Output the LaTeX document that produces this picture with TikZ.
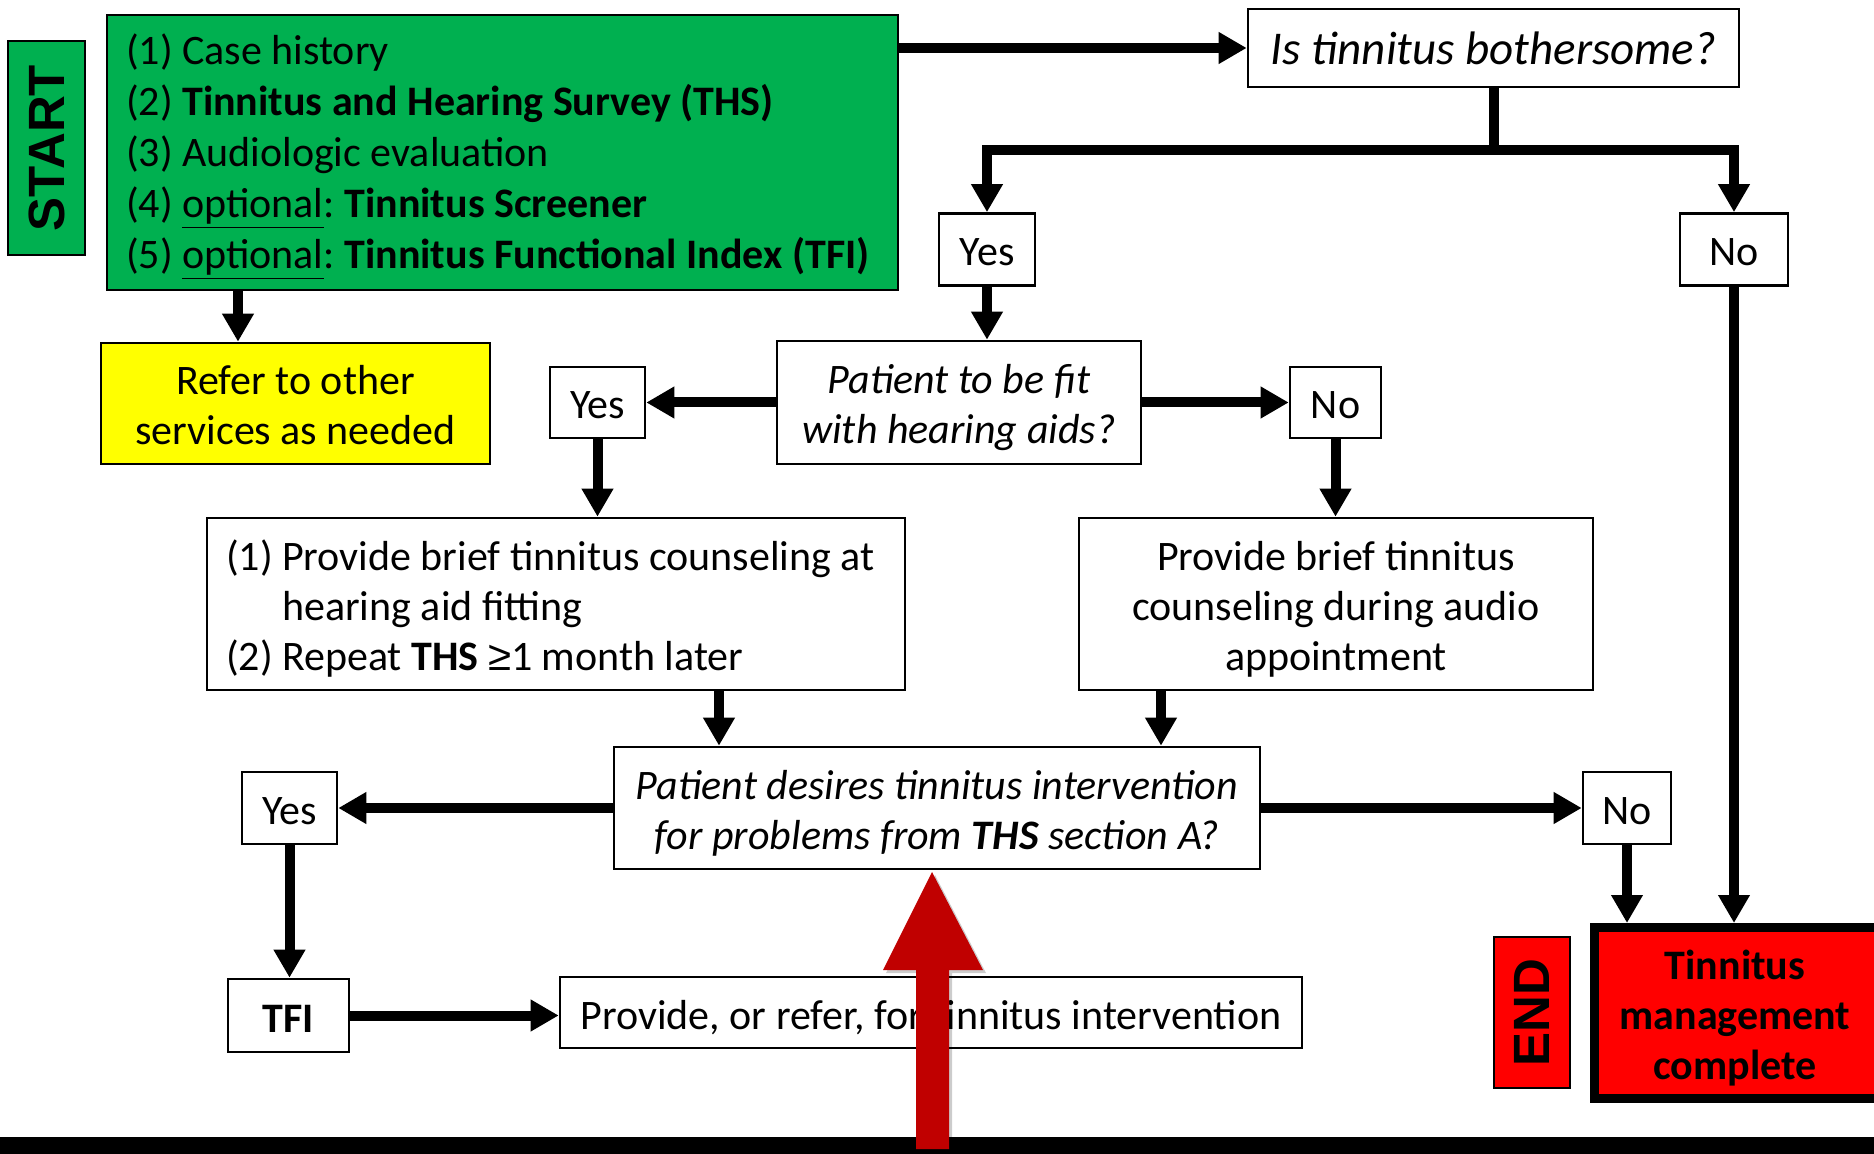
\documentclass[tikz,border=0pt]{standalone}
\usepackage{fontspec}
\setmainfont{Carlito}
\newfontfamily\labelfont{Liberation Sans}
\newfontfamily\symfont{Liberation Sans}
\usetikzlibrary{arrows.meta}
\frenchspacing

\definecolor{startgreen}{HTML}{00B050}
\definecolor{noteyellow}{HTML}{FFFF00}
\definecolor{endred}{HTML}{FF0000}
\definecolor{pointerred}{HTML}{C00000}

% fixed line boxes so every text sits the same way in its frame
\newcommand\linestrut{\rule[-3pt]{0pt}{22.5pt}}
\newcommand\liststrut{\rule[-4.5pt]{0pt}{21.5pt}}

\begin{document}
\begin{tikzpicture}[x=0.5pt,y=-0.5pt,
  txt/.style={font=\fontsize{21pt}{25pt}\selectfont},
  itxt/.style={font=\fontsize{21pt}{25pt}\selectfont\itshape},
  box/.style={draw=black, line width=1.3pt, fill=white, inner sep=0pt, align=center, txt,
    execute at begin node=\linestrut, execute at end node=\linestrut},
  leftbox/.style={box, align=left,
    execute at begin node={\spaceskip=0pt\xspaceskip=0pt#1}, execute at end node=#1},
  mbox/.style={box, align=flush center, inner xsep=1pt,
    execute at begin node={\spaceskip=0pt\xspaceskip=0pt\linestrut}, execute at end node=\linestrut},
  tag/.style={box, minimum height=36pt},
  sidelabel/.style={draw=black, line width=1.3pt, inner sep=0pt},
  link/.style={line width=5pt},
  arr/.style={line width=5pt, -{Triangle[width=15pt,length=14pt]}},
]
\useasboundingbox (0,0) rectangle (1874,1154);

% ---------- entry ----------
\node[sidelabel, fill=startgreen, minimum width=38.5pt, minimum height=107pt] (start) at (46.5,148)
  {\rotatebox{90}{\labelfont\bfseries\fontsize{25.5pt}{25pt}\selectfont START}};
\node[leftbox=\liststrut, fill=startgreen, minimum height=137.5pt, inner xsep=9.5pt, text width=376.5pt,
      font=\fontsize{21pt}{25.5pt}\selectfont] (intake) at (502.5,152.5)
  {(1) Case history\\
   (2) \textbf{Tinnitus and Hearing Survey (THS)}\\
   (3) Audiologic evaluation\\
   (4) \underline{optional}: \textbf{Tinnitus Screener}\\
   (5) \underline{optional}: \textbf{Tinnitus Functional Index (TFI)}};
\node[mbox, fill=noteyellow, text width=192.5pt, minimum height=60.5pt] (refer) at (295.5,403.5)
  {Refer to other\\services as needed};

% ---------- first question ----------
\node[box, minimum width=245.5pt, minimum height=39pt, font=\fontsize{23.5pt}{25pt}\selectfont\itshape] (bother) at (1493.5,48)
  {Is tinnitus bothersome?};
\node[tag, minimum width=48pt] (yes1) at (987,249.5) {Yes};
\node[tag, minimum width=54pt] (no1) at (1734,249.5) {No};

% ---------- hearing aids ----------
\node[mbox, itxt, text width=180pt, minimum height=61.5pt] (fit) at (959,402.5)
  {Patient to be fit\\with hearing aids?};
\node[tag, minimum width=47.5pt, minimum height=35.5pt] (yes2) at (597.5,402.5) {Yes};
\node[tag, minimum width=45.5pt, minimum height=35.5pt] (no2) at (1335.5,402.5) {No};

\node[leftbox=\linestrut, inner xsep=9.5pt, text width=330pt, minimum height=86pt] (hacounsel) at (556,604)
  {(1) Provide brief tinnitus counseling at\\
   \phantom{(1) }hearing aid fitting\\
   (2) Repeat \textbf{THS} {\symfont ≥}1 month later};
\node[mbox, text width=255pt, minimum height=86pt] (audcounsel) at (1336,604)
  {Provide brief tinnitus\\counseling during audio\\appointment};

% ---------- intervention ----------
\node[mbox, itxt, text width=321pt, minimum height=61pt] (desire) at (937,808)
  {Patient desires tinnitus intervention\\for problems from \textbf{THS} section A?};
\node[tag, minimum width=47.5pt] (yes3) at (289.5,808) {Yes};
\node[tag, minimum width=44pt] (no3) at (1627,808) {No};
\node[box, minimum width=60.5pt, minimum height=36.5pt] (tfi) at (288.5,1015.5) {\textbf{TFI}};
\node[box, minimum width=371pt, minimum height=35.5pt] (provide) at (931,1012.5)
  {Provide, or refer, for tinnitus intervention};

% ---------- end ----------
\node[sidelabel, fill=endred, minimum width=38pt, minimum height=75.5pt] (endtag) at (1532,1012.5)
  {\rotatebox{90}{\labelfont\bfseries\fontsize{25.5pt}{25pt}\selectfont END}};
\node[draw=black, line width=4.5pt, fill=endred, inner sep=0pt, minimum width=152.75pt, minimum height=85.5pt] (done) at (1747.25,1013) {};
\node[txt, align=center, inner sep=0pt, execute at begin node=\linestrut, execute at end node=\linestrut] (donetext) at (1735,1018)
  {\textbf{Tinnitus}\\\textbf{management}\\\textbf{complete}};

% ---------- connectors ----------
\coordinate (split) at (1493.5,150);
\coordinate (referdrop) at (238,290);
\coordinate (leftdrop) at ([xshift=81.5pt]hacounsel.south);
\coordinate (rightdrop) at ([xshift=-87.5pt]audcounsel.south);

\draw[arr] (intake.east |- bother.west) -- (bother.west);
\draw[arr] (referdrop |- intake.south) -- (referdrop |- refer.north);
\draw[link] (bother.south) -- (split);
\draw[arr] (split) -| (yes1.north);
\draw[arr] (split) -| (no1.north);
\draw[arr] (yes1.south) -- (yes1.south |- fit.north);
\draw[arr] (no1.south) -- (no1.south |- done.north);
\draw[arr] (fit.west) -- (yes2.east);
\draw[arr] (fit.east) -- (no2.west);
\draw[arr] (yes2.south) -- (yes2.south |- hacounsel.north);
\draw[arr] (no2.south) -- (no2.south |- audcounsel.north);
\draw[arr] (leftdrop) -- (leftdrop |- desire.north);
\draw[arr] (rightdrop) -- (rightdrop |- desire.north);
\draw[arr] (desire.west) -- (yes3.east);
\draw[arr] (desire.east) -- (no3.west);
\draw[arr] (yes3.south) -- (yes3.south |- tfi.north);
\draw[arr] (no3.south) -- (no3.south |- done.north);
\draw[arr] (tfi.east) -- (tfi.east -| provide.west);

% ---------- bottom bar and pointer ----------
\fill[black] (0,1137) rectangle (1874,1154);
\fill[black, opacity=0.2] (919,1149) -- (919,973) -- (886,973) -- (935,875) -- (986,973) -- (952,973) -- (952,1149) -- cycle;
\fill[pointerred] (916,1149) -- (916,970) -- (883,970) -- (932,872) -- (983,970) -- (949,970) -- (949,1149) -- cycle;
\end{tikzpicture}
\end{document}
